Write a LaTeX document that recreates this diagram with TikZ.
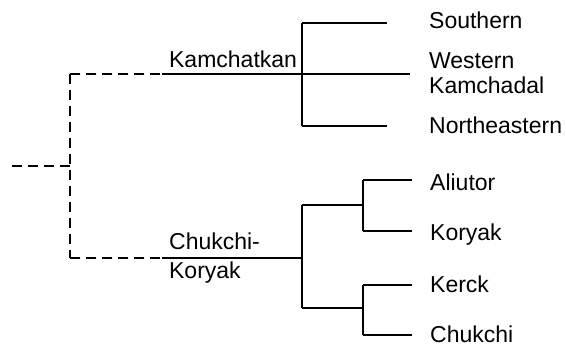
\documentclass[tikz,border=0pt]{standalone}
\usepackage{fontspec}
\setmainfont{Liberation Sans}
\begin{document}
\begin{tikzpicture}[x=0.5pt,y=-0.5pt,line join=miter,line width=1.15pt,
	font=\fontsize{11.5}{12.5}\selectfont,
	gapline/.style={dash pattern=on 5pt off 3pt},
	leaf/.style={anchor=base west,inner sep=0pt},
	group/.style={anchor=west,inner sep=0pt,align=left}]
	\useasboundingbox (0,0) rectangle (566,354);
	% joints
	\path (12,166) coordinate (root)
	(70,166) coordinate (R)
	(70,74) coordinate (K0) (162,74) coordinate (K1) (302,74) coordinate (K)
	(70,258) coordinate (C0) (162,258) coordinate (C1) (302,258) coordinate (C)
	(302,23) coordinate (Ks) (302,126) coordinate (Kn)
	(302,205) coordinate (Ca) (363,205) coordinate (A)
	(302,308) coordinate (Cb) (363,308) coordinate (B)
	(363,180) coordinate (Aa) (363,231) coordinate (Ab)
	(363,285) coordinate (Ba) (363,335) coordinate (Bb);
	% free ends of the branches
	\path (387,23) coordinate (Es) (410,74) coordinate (Ew) (387,126) coordinate (En)
	(412,180) coordinate (Ea) (412,231) coordinate (Eb)
	(412,285) coordinate (Ec) (412,335) coordinate (Ed);
	\draw[gapline] (root)--(R) (K0)--(C0) (K0)--(K1) (C0)--(C1);
	\draw (K1)--(K) (C1)--(C);
	\draw (Ks)--(Kn) (Ks)--(Es) (K)--(Ew) (Kn)--(En);
	\draw (Ca)--(Cb) (Ca)--(A) (Cb)--(B) (Aa)--(Ab) (Ba)--(Bb);
	\draw (Aa)--(Ea) (Ab)--(Eb) (Ba)--(Ec) (Bb)--(Ed);
	% labels
	\node[leaf] (kamchatkan) at (168,67) {Kamchatkan};
	\node[group] (chukot) at (168,258) {Chukchi-\\[2pt]Koryak};
	\node[group] (western) at (428,73) {Western\\Kamchadal};
	\foreach \n/\x/\y/\t in {south/428/28/Southern,northeast/428/133/Northeastern,
		aliutor/429/190/Aliutor,koryak/429/240/Koryak,kerck/429/292/Kerck,chukchi/429/342/Chukchi
	}{\node[leaf] (\n) at (\x,\y) {\t};}
\end{tikzpicture}
\end{document}
